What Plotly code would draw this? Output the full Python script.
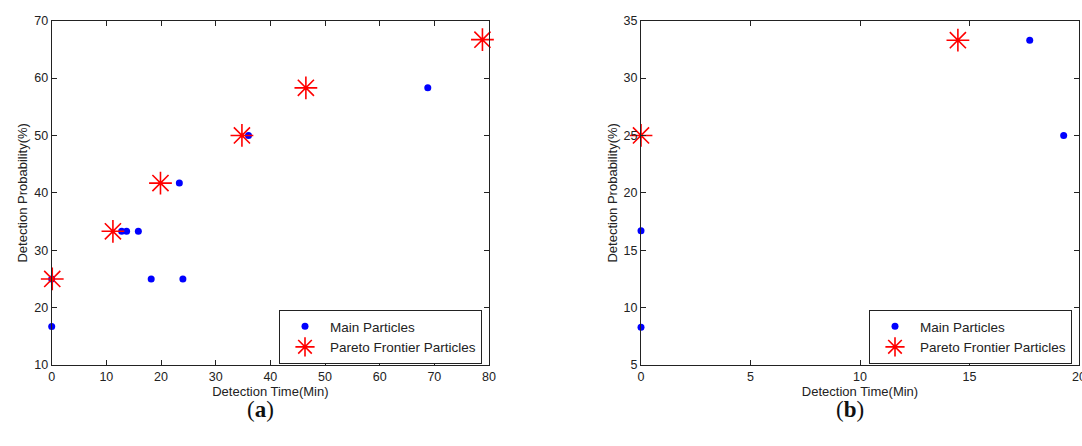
import plotly.graph_objects as go

# Panel (a)
a_main_x = [0, 0, 12.8, 13.7, 15.85, 18.2, 24.0, 23.35, 36.0, 68.8]
a_main_y = [16.7, 25, 33.3, 33.3, 33.3, 25, 25, 41.7, 50, 58.3]
a_par_x = [0.1, 11.2, 19.9, 34.8, 46.5, 78.8]
a_par_y = [25, 33.3, 41.7, 50, 58.3, 66.7]

# Panel (b)
b_main_x = [0, 0, 17.75, 19.3]
b_main_y = [8.3, 16.7, 33.3, 25]
b_par_x = [0, 14.47]
b_par_y = [25, 33.3]

W, H = 1082, 446
FONT = "Liberation Sans, Arial, sans-serif"

fig = go.Figure()

def add_panel(mx, my, px, py, xa, ya, leg):
    fig.add_trace(go.Scatter(x=mx, y=my, mode="markers", name="Main Particles",
                             marker=dict(color="#0000ff", size=7, symbol="circle"),
                             xaxis=xa, yaxis=ya, legend=leg, cliponaxis=False))
    fig.add_trace(go.Scatter(x=px, y=py, mode="markers", name="Pareto Frontier Particles",
                             marker=dict(color="#ff0000", size=19, symbol="asterisk-open",
                                         line=dict(color="#ff1a1a", width=1.6)),
                             xaxis=xa, yaxis=ya, legend=leg, cliponaxis=False))

add_panel(a_main_x, a_main_y, a_par_x, a_par_y, "x", "y", "legend")
add_panel(b_main_x, b_main_y, b_par_x, b_par_y, "x2", "y2", "legend2")

ydom = [(H - 365) / H, (H - 20.7) / H]
axis_common = dict(showline=True, linecolor="#222", linewidth=1, mirror="ticks",
                   ticks="inside", ticklen=5, tickcolor="#222", showgrid=False,
                   zeroline=False, automargin=False, ticklabeloverflow="allow",
                   tickfont=dict(family=FONT, size=12.5, color="#222"),
                   title_font=dict(family=FONT, size=13, color="#222"))

leg_common = dict(yanchor="middle", y=(H - 337) / H, xanchor="right",
                  bgcolor="white", bordercolor="#222", borderwidth=1,
                  font=dict(family=FONT, size=13.5, color="#222"), itemsizing="trace",
                  itemwidth=40, tracegroupgap=0)

fig.update_layout(
    width=W, height=H, margin=dict(l=0, r=0, t=0, b=0, autoexpand=False),
    paper_bgcolor="white", plot_bgcolor="white",
    xaxis=dict(domain=[51.7 / W, 489 / W], range=[0, 80], tickvals=list(range(0, 81, 10)),
               title=dict(text="Detection Time(Min)", standoff=0), anchor="y", **axis_common),
    yaxis=dict(domain=ydom, range=[10, 70], tickvals=list(range(10, 71, 10)),
               title=dict(text="Detection Probability(%)", standoff=3), anchor="x", **axis_common),
    xaxis2=dict(domain=[641 / W, 1079 / W], range=[0, 20], tickvals=[0, 5, 10, 15, 20],
                title=dict(text="Detection Time(Min)", standoff=0), anchor="y2", **axis_common),
    yaxis2=dict(domain=ydom, range=[5, 35], tickvals=[5, 10, 15, 20, 25, 30, 35],
                title=dict(text="Detection Probability(%)", standoff=3), anchor="x2", **axis_common),
    legend=dict(x=482 / W, **leg_common),
    legend2=dict(x=1072 / W, **leg_common),
    annotations=[
        dict(text="(<b>a</b>)", x=260 / W, y=(H - 409) / H, xref="paper", yref="paper",
             xanchor="center", yanchor="middle", showarrow=False,
             font=dict(family="Liberation Serif, Times New Roman, serif", size=23, color="#111")),
        dict(text="(<b>b</b>)", x=850 / W, y=(H - 409) / H, xref="paper", yref="paper",
             xanchor="center", yanchor="middle", showarrow=False,
             font=dict(family="Liberation Serif, Times New Roman, serif", size=23, color="#111")),
    ],
)

fig.write_html("out.html")
